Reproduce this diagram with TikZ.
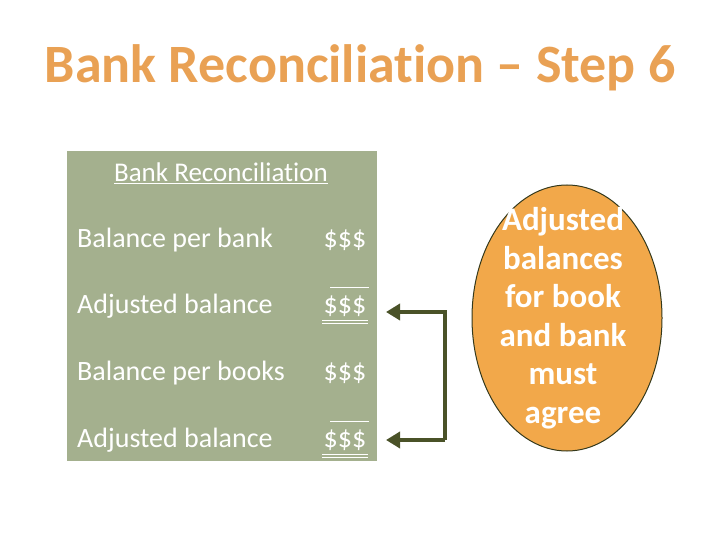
\documentclass[tikz,border=0pt]{standalone}
\usepackage{fontspec}
\setmainfont[RawFeature=-liga]{Carlito}
\usetikzlibrary{arrows.meta,shapes.geometric}
\definecolor{sage}{HTML}{A4B08E}
\definecolor{ttl}{HTML}{E9A154}
\definecolor{org}{HTML}{F2A84A}
\definecolor{arr}{HTML}{4A5228}
\tikzset{lbl/.style={anchor=west,text=white,font=\fontsize{28}{30}\selectfont,inner sep=0pt},
 amt/.style={anchor=center,text=white,font=\fontsize{28}{30}\selectfont,inner sep=0pt},
 conn/.style={draw=arr,line width=4.5pt,-{Triangle[length=14pt,width=16pt]}}}
\begin{document}
\begin{tikzpicture}[x=1pt,y=-1pt]
\useasboundingbox (0,0) rectangle (720,540);
\node[text=ttl,font=\bfseries\fontsize{54}{60}\selectfont] (title) at (360,68) {Bank Reconciliation – Step 6};
\fill[sage] (67,151) rectangle (377,461);
\node[text=white,font=\fontsize{27}{30}\selectfont,inner sep=0pt] (hdr) at (221,173) {\underline{Bank Reconciliation}};
\node[lbl] (l1) at (77,240) {Balance per bank};
\node[lbl] (l2) at (77,306) {Adjusted balance};
\node[lbl] (l3) at (77,373) {Balance per books};
\node[lbl] (l4) at (77,440) {Adjusted balance};
\node[amt] (a1) at (345,240) {\$\$\$};
\node[amt] (a2) at (345,306) {\$\$\$};
\node[amt] (a3) at (345,373) {\$\$\$};
\node[amt] (a4) at (345,440) {\$\$\$};
\foreach \n/\y in {a2/306,a4/440}{
 \draw[white,line width=0.8pt] (330,\y-19) -- (369,\y-19);
 \draw[white,line width=0.8pt] (322,\y+14) -- (368,\y+14);
 \draw[white,line width=0.8pt] (322,\y+17) -- (368,\y+17);
}
\coordinate (c1) at (445,312);
\coordinate (c2) at (445,440);
\draw[conn] (c2) -- (c1) -- (386,312);
\draw[conn] (445,440) -- (386,440);
\node[draw=arr!70!black,line width=1pt,fill=org,ellipse,minimum width=190pt,minimum height=266pt,inner sep=0pt] (e) at (567,318) {};
\node[text=white,align=center,font=\bfseries\fontsize{33}{38.5}\selectfont] (et) at (563,318) {Adjusted\\balances\\for book\\and bank\\must\\agree};
\end{tikzpicture}
\end{document}
